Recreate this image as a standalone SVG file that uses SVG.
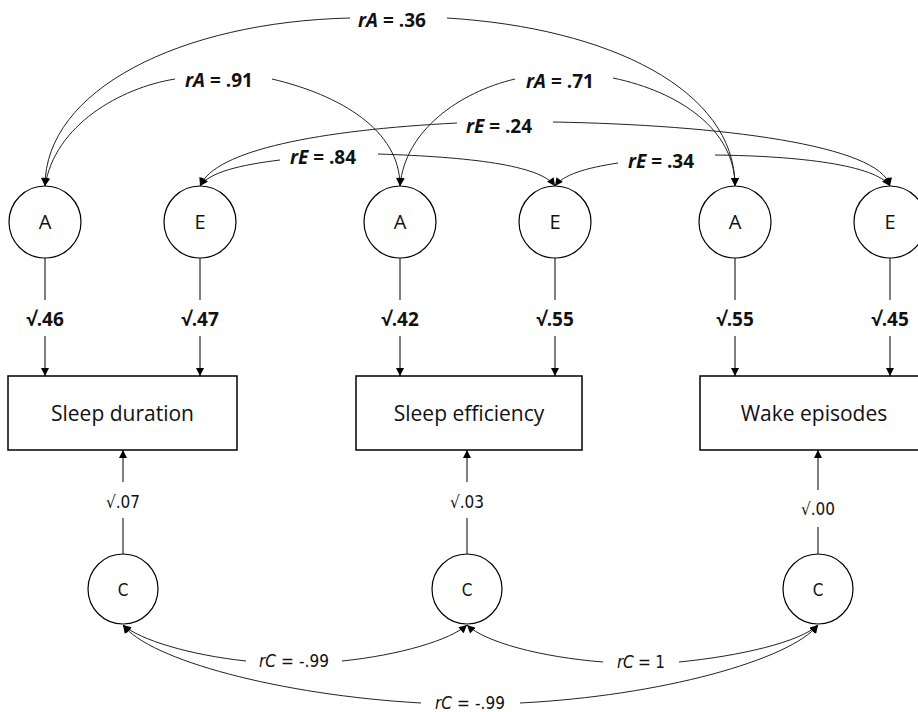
<svg xmlns="http://www.w3.org/2000/svg" width="918" height="712" viewBox="0 0 918 712">
<defs>
<marker id="arr" viewBox="0 0 10 10" refX="10" refY="5" markerWidth="9" markerHeight="8" markerUnits="userSpaceOnUse" orient="auto"><path d="M0,0 L10,5 L0,10 z" fill="#000"/></marker>
</defs>
<style>
.bg{fill:#fff}
.lat{fill:#fff;stroke:#000;stroke-width:1.2}
.box{fill:#fff;stroke:#000;stroke-width:1.5}
.ln{fill:none;stroke:#000;stroke-width:1}
.cv{fill:none;stroke:#222;stroke-width:1}
.nt{font-family:"Open Sans","DejaVu Sans",sans-serif;font-size:20px;fill:#111;text-anchor:middle}
.bt{font-family:"Open Sans","DejaVu Sans",sans-serif;font-size:21px;fill:#111;text-anchor:middle}
.lb{font-family:"Open Sans","DejaVu Sans",sans-serif;font-size:19px;font-weight:bold;fill:#111;text-anchor:middle}
.cl{font-family:"Liberation Sans Narrow","DejaVu Sans Condensed","Liberation Sans",sans-serif;font-size:17px;fill:#111;text-anchor:middle}
</style>
<rect class="bg" x="0" y="0" width="918" height="712"/>

<g id="connectors">
<!-- top correlations -->
<path class="cv" d="M350,18 C180,22 45,90 45,186" marker-end="url(#arr)"/>
<path class="cv" d="M447,18 C610,28 735,90 735,186" marker-end="url(#arr)"/>
<path class="cv" d="M175,79 C120,88 55,125 45,186" marker-end="url(#arr)"/>
<path class="cv" d="M272,79 C340,95 400,130 400,186" marker-end="url(#arr)"/>
<path class="cv" d="M515,79 C460,92 405,130 400,186" marker-end="url(#arr)"/>
<path class="cv" d="M613,78 C680,92 735,130 735,186" marker-end="url(#arr)"/>
<path class="cv" d="M457,123 C320,130 215,150 200,186" marker-end="url(#arr)"/>
<path class="cv" d="M553,122 C720,125 880,145 890,186" marker-end="url(#arr)"/>
<path class="cv" d="M280,160 C240,165 210,172 200,186" marker-end="url(#arr)"/>
<path class="cv" d="M378,154 C470,157 540,165 555,186" marker-end="url(#arr)"/>
<path class="cv" d="M618,163 C585,168 563,175 555,186" marker-end="url(#arr)"/>
<path class="cv" d="M715,155 C800,156 875,165 890,186" marker-end="url(#arr)"/>
<!-- loadings A/E to boxes -->
<line class="ln" x1="45" y1="258" x2="45" y2="300"/><line class="ln" x1="45" y1="336" x2="45" y2="376" marker-end="url(#arr)"/>
<line class="ln" x1="200" y1="258" x2="200" y2="300"/><line class="ln" x1="200" y1="336" x2="200" y2="376" marker-end="url(#arr)"/>
<line class="ln" x1="400" y1="258" x2="400" y2="300"/><line class="ln" x1="400" y1="336" x2="400" y2="376" marker-end="url(#arr)"/>
<line class="ln" x1="555" y1="258" x2="555" y2="300"/><line class="ln" x1="555" y1="336" x2="555" y2="376" marker-end="url(#arr)"/>
<line class="ln" x1="735" y1="258" x2="735" y2="300"/><line class="ln" x1="735" y1="336" x2="735" y2="376" marker-end="url(#arr)"/>
<line class="ln" x1="890" y1="258" x2="890" y2="300"/><line class="ln" x1="890" y1="336" x2="890" y2="376" marker-end="url(#arr)"/>
<!-- C loadings -->
<line class="ln" x1="123" y1="554" x2="123" y2="518"/><line class="ln" x1="123" y1="482" x2="123" y2="450" marker-end="url(#arr)"/>
<line class="ln" x1="467" y1="554" x2="467" y2="518"/><line class="ln" x1="467" y1="482" x2="467" y2="450" marker-end="url(#arr)"/>
<line class="ln" x1="818" y1="554" x2="818" y2="527"/><line class="ln" x1="818" y1="490" x2="818" y2="450" marker-end="url(#arr)"/>
<!-- bottom correlations -->
<path class="cv" d="M246,661 C190,655 140,640 123,625" marker-end="url(#arr)"/>
<path class="cv" d="M342,661 C400,655 450,640 467,625" marker-end="url(#arr)"/>
<path class="cv" d="M603,662 C540,657 485,642 467,625" marker-end="url(#arr)"/>
<path class="cv" d="M679,662 C740,656 800,642 818,625" marker-end="url(#arr)"/>
<path class="cv" d="M421,703 C280,695 150,660 123,625" marker-end="url(#arr)"/>
<path class="cv" d="M520,703 C660,696 790,660 818,625" marker-end="url(#arr)"/>
</g>

<g id="labels">
<text class="lb" x="392" y="27"><tspan font-style="italic">rA</tspan> = .36</text>
<text class="lb" x="219" y="87"><tspan font-style="italic">rA</tspan> = .91</text>
<text class="lb" x="560" y="88"><tspan font-style="italic">rA</tspan> = .71</text>
<text class="lb" x="499" y="133"><tspan font-style="italic">rE</tspan> = .24</text>
<text class="lb" x="323" y="164"><tspan font-style="italic">rE</tspan> = .84</text>
<text class="lb" x="661" y="168"><tspan font-style="italic">rE</tspan> = .34</text>
<text class="lb" x="45" y="326">√.46</text>
<text class="lb" x="200" y="326">√.47</text>
<text class="lb" x="400" y="326">√.42</text>
<text class="lb" x="555" y="326">√.55</text>
<text class="lb" x="735" y="326">√.55</text>
<text class="lb" x="890" y="326">√.45</text>
<text class="cl" x="123" y="508">√.07</text>
<text class="cl" x="467" y="508">√.03</text>
<text class="cl" x="818" y="515">√.00</text>
<text class="cl" x="294" y="667" textLength="70"><tspan font-style="italic">rC</tspan> = -.99</text>
<text class="cl" x="641" y="668" textLength="48"><tspan font-style="italic">rC</tspan> = 1</text>
<text class="cl" x="470" y="709" textLength="70"><tspan font-style="italic">rC</tspan> = -.99</text>
</g>

<g id="A1"><circle class="lat" cx="45" cy="222" r="36"/><text class="nt" x="45" y="229">A</text></g>
<g id="E1"><circle class="lat" cx="200" cy="222" r="36"/><text class="nt" x="200" y="229">E</text></g>
<g id="A2"><circle class="lat" cx="400" cy="222" r="36"/><text class="nt" x="400" y="229">A</text></g>
<g id="E2"><circle class="lat" cx="555" cy="222" r="36"/><text class="nt" x="555" y="229">E</text></g>
<g id="A3"><circle class="lat" cx="735" cy="222" r="36"/><text class="nt" x="735" y="229">A</text></g>
<g id="E3"><circle class="lat" cx="890" cy="222" r="36"/><text class="nt" x="890" y="229">E</text></g>

<g id="sleep-duration"><rect class="box" x="8" y="376" width="229" height="74"/><text class="bt" x="122.5" y="421">Sleep duration</text></g>
<g id="sleep-efficiency"><rect class="box" x="356" y="376" width="226" height="74"/><text class="bt" x="469" y="421">Sleep efficiency</text></g>
<g id="wake-episodes"><rect class="box" x="700" y="376" width="229" height="74"/><text class="bt" x="814" y="421">Wake episodes</text></g>

<g id="C1"><circle class="lat" cx="123" cy="589" r="35"/><text class="cl" x="123" y="596" font-size="18">C</text></g>
<g id="C2"><circle class="lat" cx="467" cy="589" r="35"/><text class="cl" x="467" y="596" font-size="18">C</text></g>
<g id="C3"><circle class="lat" cx="818" cy="589" r="35"/><text class="cl" x="818" y="596" font-size="18">C</text></g>
</svg>
